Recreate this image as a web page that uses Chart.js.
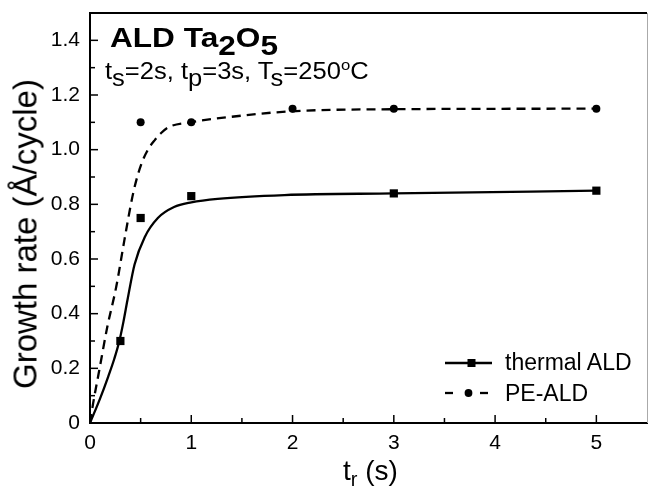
<!DOCTYPE html>
<html><head><meta charset="utf-8">
<script src="https://cdn.jsdelivr.net/npm/chart.js@4.4.1/dist/chart.umd.min.js"></script>
<style>
html,body{margin:0;padding:0;background:#fff;overflow:hidden}
#wrap{position:relative;width:648px;height:489px}
canvas{position:absolute;left:0;top:0}
.t{position:absolute;font-family:"Liberation Sans",Arial,sans-serif;color:#000;white-space:nowrap;line-height:1}
.sb{position:relative}
</style></head><body>
<div id="wrap">
<canvas id="c" width="648" height="489"></canvas>
<div class="t" style="left:110px;top:25px;font-size:27px;font-weight:bold;transform:scaleX(1.17);transform-origin:0 0">ALD Ta<span class="sb" style="top:8px">2</span>O<span class="sb" style="top:8px">5</span></div>
<div class="t" style="left:105px;top:60px;font-size:23px;transform:scaleX(1.11);transform-origin:0 0">t<span class="sb" style="top:7px">s</span>=2s, t<span class="sb" style="top:7px">p</span>=3s, T<span class="sb" style="top:7px">s</span>=250<span class="sb" style="font-size:15px;top:-9px">o</span>C</div>
<div class="t" style="left:505px;top:350.5px;font-size:23px">thermal ALD</div>
<div class="t" style="left:505px;top:381.5px;font-size:23px">PE-ALD</div>
<div class="t" style="left:343px;top:457px;font-size:28px">t<span class="sb" style="font-size:20px;top:6px">r</span> (s)</div>
<div class="t" style="left:25px;top:234px;font-size:33px;transform:translate(-50%,-50%) rotate(-90deg)">Growth rate (Å/cycle)</div>
</div>
<script>
// ---- data ----
const thermalX = [0.3, 0.5, 1, 3, 5];
const thermalY = [0.30, 0.75, 0.83, 0.84, 0.85];
const peX = [0.5, 1, 2, 3, 5];
const peY = [1.10, 1.10, 1.15, 1.15, 1.15];
// fitted curves
const thermalFitX = [0, 0.10, 0.18, 0.24, 0.29, 0.33, 0.37, 0.44, 0.54, 0.67, 0.83, 1.0, 1.26, 1.92, 3, 5];
const thermalFitY = [0, 0.09, 0.17, 0.235, 0.30, 0.37, 0.45, 0.58, 0.68, 0.75, 0.79, 0.807, 0.82, 0.834, 0.84, 0.85];
const peFitX = [0, 0.03, 0.09, 0.17, 0.26, 0.34, 0.42, 0.47, 0.52, 0.58, 0.64, 0.70, 0.78, 0.985, 1.39, 1.97, 3, 5];
const peFitY = [0, 0.07, 0.19, 0.35, 0.50, 0.67, 0.83, 0.905, 0.96, 1.005, 1.035, 1.06, 1.083, 1.10, 1.12, 1.14, 1.148, 1.15];
// ticks
const xTickVals = [0, 1, 2, 3, 4, 5];
const xTickLabels = ['0', '1', '2', '3', '4', '5'];
const xMinorVals = [0.5, 1.5, 2.5, 3.5, 4.5];
const yTickVals = [0, 0.2, 0.4, 0.6, 0.8, 1.0, 1.2, 1.4];
const yTickLabels = ['0', '0.2', '0.4', '0.6', '0.8', '1.0', '1.2', '1.4'];
const yMinorVals = [0.1, 0.3, 0.5, 0.7, 0.9, 1.1, 1.3];
const seriesNames = ['thermal ALD', 'PE-ALD'];

const pts = (xs, ys) => xs.map((x, i) => ({x: x, y: ys[i]}));
const FONT = '"Liberation Sans", Arial, sans-serif';

const framePlugin = {
  id: 'frame',
  afterDraw(chart) {
    const {ctx, chartArea: a, scales: {x, y}} = chart;
    ctx.save();
    ctx.strokeStyle = '#000';
    ctx.lineWidth = 2;
    ctx.beginPath(); ctx.moveTo(a.left - 1, a.top); ctx.lineTo(a.right, a.top); ctx.stroke();
    ctx.strokeStyle = '#aaa'; ctx.lineWidth = 1;
    ctx.beginPath(); ctx.moveTo(a.right + 0.5, a.top); ctx.lineTo(a.right + 0.5, a.bottom); ctx.stroke();
    ctx.strokeStyle = '#000'; ctx.lineWidth = 1.5;
    const seg = (x1, y1, x2, y2) => { ctx.beginPath(); ctx.moveTo(x1, y1); ctx.lineTo(x2, y2); ctx.stroke(); };
    xTickVals.forEach(v => { const p = x.getPixelForValue(v); seg(p, a.bottom, p, a.bottom - 8); });
    xMinorVals.forEach(v => { const p = x.getPixelForValue(v); seg(p, a.bottom, p, a.bottom - 5); });
    yTickVals.forEach(v => { const p = y.getPixelForValue(v); seg(a.left, p, a.left + 8, p); });
    yMinorVals.forEach(v => { const p = y.getPixelForValue(v); seg(a.left, p, a.left + 5, p); });
    // legend symbols
    const lx = a.right - 202, ly1 = a.bottom - 60, ly2 = a.bottom - 30;
    ctx.lineWidth = 2.3;
    seg(lx, ly1, lx + 47, ly1);
    ctx.fillStyle = '#000';
    ctx.fillRect(lx + 22.5, ly1 - 4, 8, 8);
    seg(lx, ly2, lx + 8, ly2);
    seg(lx + 35, ly2, lx + 43, ly2);
    ctx.beginPath(); ctx.arc(lx + 23.5, ly2, 3.9, 0, Math.PI * 2); ctx.fill();
    ctx.restore();
  }
};

new Chart(document.getElementById('c'), {
  type: 'scatter',
  data: {
    datasets: [
      {label: seriesNames[0], data: pts(thermalX, thermalY), pointStyle: 'rect', pointRadius: 5.8,
       backgroundColor: '#000', borderColor: '#000', borderWidth: 0, showLine: false},
      {label: seriesNames[1], data: pts(peX, peY), pointStyle: 'circle', pointRadius: 4,
       backgroundColor: '#000', borderColor: '#000', borderWidth: 0, showLine: false},
      {label: seriesNames[0] + ' fit', data: pts(thermalFitX, thermalFitY), showLine: true, pointRadius: 0,
       borderColor: '#000', borderWidth: 2.3, cubicInterpolationMode: 'monotone', fill: false},
      {label: seriesNames[1] + ' fit', data: pts(peFitX, peFitY), showLine: true, pointRadius: 0,
       borderColor: '#000', borderWidth: 2.3, borderDash: [9, 6], cubicInterpolationMode: 'monotone', fill: false}
    ]
  },
  options: {
    responsive: false, animation: false, devicePixelRatio: 1,
    layout: {autoPadding: false, padding: {top: 13, right: 1, left: 0, bottom: 0}},
    plugins: {legend: {display: false}, tooltip: {enabled: false}},
    scales: {
      x: {
        type: 'linear', min: 0, max: 5.5,
        afterBuildTicks: s => { s.ticks = xTickVals.map(v => ({value: v})); },
        afterFit: s => { s.height = 66; s.paddingLeft = 0; s.paddingRight = 0; },
        ticks: {callback: v => xTickLabels[xTickVals.indexOf(v)], font: {family: FONT, size: 21}, color: '#000',
                padding: 8, maxRotation: 0, autoSkip: false},
        grid: {display: false, drawTicks: false},
        border: {display: true, color: '#000', width: 2}
      },
      y: {
        type: 'linear', min: 0, max: 1.5,
        afterBuildTicks: s => { s.ticks = yTickVals.map(v => ({value: v})); },
        afterFit: s => { s.width = 90; s.paddingTop = 0; s.paddingBottom = 0; },
        ticks: {callback: v => yTickLabels[yTickVals.indexOf(v)], font: {family: FONT, size: 21}, color: '#000',
                padding: 10, autoSkip: false},
        grid: {display: false, drawTicks: false},
        border: {display: true, color: '#000', width: 2}
      }
    }
  },
  plugins: [framePlugin]
});
</script>
</body></html>
